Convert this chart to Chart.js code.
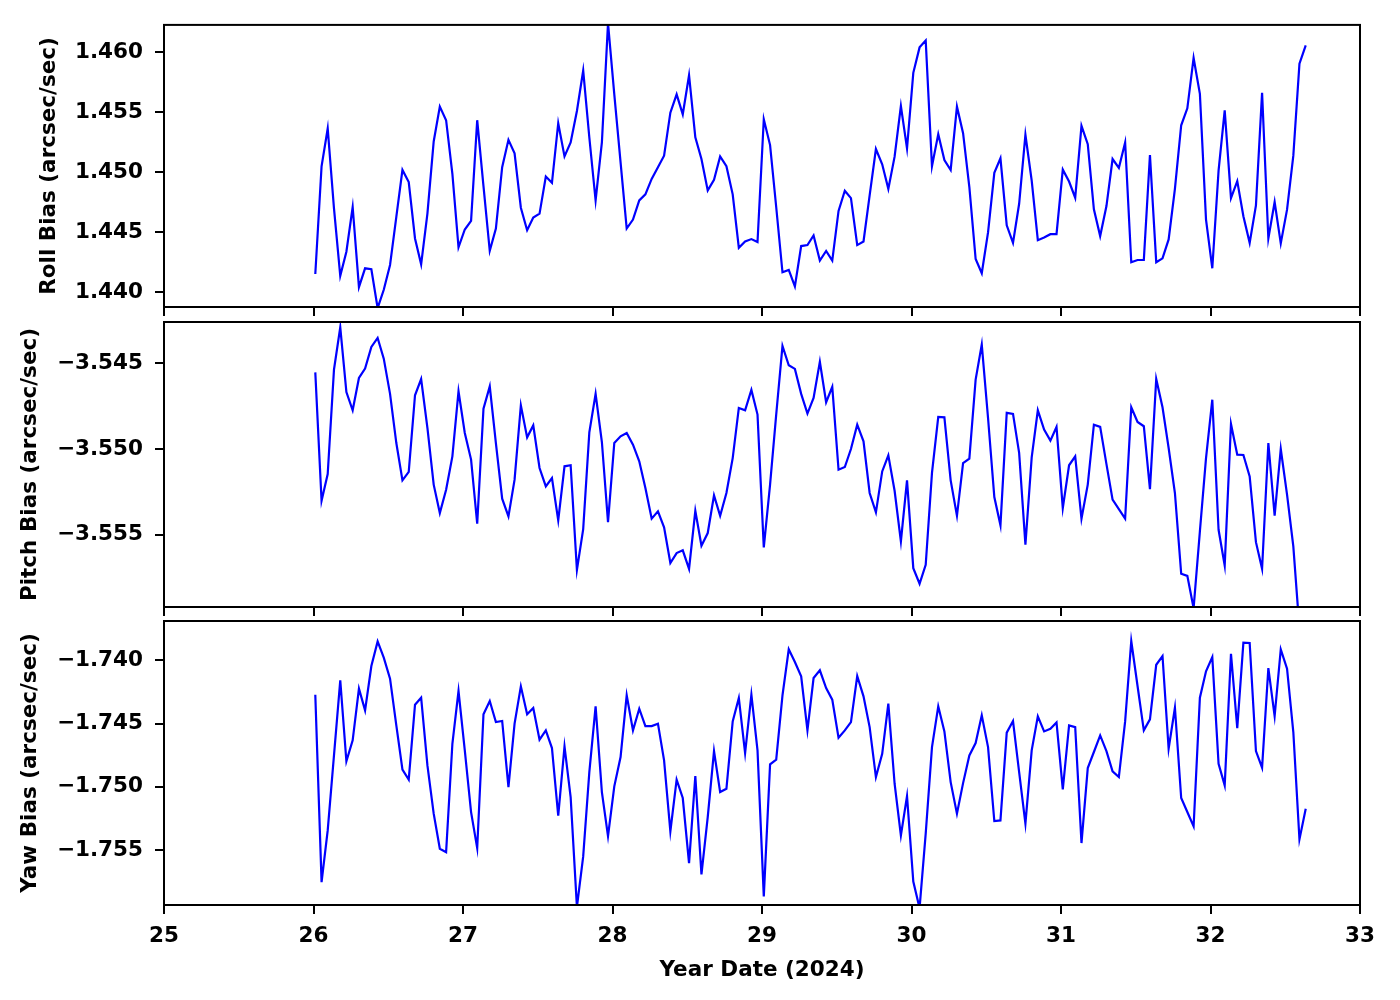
<!DOCTYPE html>
<html>
<head>
<meta charset="utf-8">
<script src="https://cdn.jsdelivr.net/npm/chart.js@4.4.1/dist/chart.umd.min.js"></script>
<style>
body { margin: 0; background: #fff; }
#wrap { position: relative; width: 1400px; height: 1000px; }
#wrap canvas { position: absolute; left: 0; top: 0; }
</style>
</head>
<body>
<div id="wrap">
<canvas id="roll" width="1400" height="1000"></canvas>
<canvas id="pitch" width="1400" height="1000"></canvas>
<canvas id="yaw" width="1400" height="1000"></canvas>
</div>
<script>
// hourly samples
var yearDates = [
  26.012, 26.054, 26.095, 26.137, 26.179, 26.220, 26.262, 26.304, 26.345, 26.387, 26.429, 26.470,
  26.512, 26.554, 26.595, 26.637, 26.679, 26.720, 26.762, 26.804, 26.845, 26.887, 26.929, 26.970,
  27.012, 27.054, 27.095, 27.137, 27.179, 27.220, 27.262, 27.304, 27.345, 27.387, 27.429, 27.470,
  27.512, 27.554, 27.595, 27.637, 27.679, 27.720, 27.762, 27.804, 27.845, 27.887, 27.929, 27.970,
  28.012, 28.054, 28.095, 28.137, 28.179, 28.220, 28.262, 28.304, 28.345, 28.387, 28.429, 28.470,
  28.512, 28.554, 28.595, 28.637, 28.679, 28.720, 28.762, 28.804, 28.845, 28.887, 28.929, 28.970,
  29.012, 29.054, 29.095, 29.137, 29.179, 29.220, 29.262, 29.304, 29.345, 29.387, 29.429, 29.470,
  29.512, 29.554, 29.595, 29.637, 29.679, 29.720, 29.762, 29.804, 29.845, 29.887, 29.929, 29.970,
  30.012, 30.054, 30.095, 30.137, 30.179, 30.220, 30.262, 30.304, 30.345, 30.387, 30.429, 30.470,
  30.512, 30.554, 30.595, 30.637, 30.679, 30.720, 30.762, 30.804, 30.845, 30.887, 30.929, 30.970,
  31.012, 31.054, 31.095, 31.137, 31.179, 31.220, 31.262, 31.304, 31.345, 31.387, 31.429, 31.470,
  31.512, 31.554, 31.595, 31.637, 31.679, 31.720, 31.762, 31.804, 31.845, 31.887, 31.929, 31.970,
  32.012, 32.054, 32.095, 32.137, 32.179, 32.220, 32.262, 32.304, 32.345, 32.387, 32.429, 32.470,
  32.512, 32.554, 32.595, 32.637
];

var rollBias = [
  1.44154, 1.45050, 1.45364, 1.44700, 1.44138, 1.44339, 1.44711, 1.44044, 1.44201, 1.44193,
  1.43870, 1.44022, 1.44229, 1.44628, 1.45019, 1.44918, 1.44449, 1.44234, 1.44656, 1.45256,
  1.45546, 1.45433, 1.44986, 1.44375, 1.44524, 1.44595, 1.45433, 1.44885, 1.44347, 1.44532,
  1.45042, 1.45270, 1.45157, 1.44705, 1.44518, 1.44623, 1.44656, 1.44964, 1.44912, 1.45408,
  1.45132, 1.45248, 1.45510, 1.45846, 1.45289, 1.44766, 1.45248, 1.46240, 1.45648, 1.45083,
  1.44532, 1.44606, 1.44766,
  1.44816, 1.44945, 1.45042, 1.45138, 1.45496, 1.45648, 1.45482, 1.45807, 1.45290, 1.45110,
  1.44849, 1.44937, 1.45132, 1.45050, 1.44816, 1.44372, 1.44424, 1.44444, 1.44419, 1.45441,
  1.45226, 1.44711, 1.44168, 1.44187, 1.44050, 1.44386, 1.44394, 1.44474, 1.44265, 1.44345,
  1.44265, 1.44678, 1.44846, 1.44785, 1.44394, 1.44424, 1.44807, 1.45193, 1.45066, 1.44862,
  1.45130, 1.45551, 1.45199, 1.45827, 1.46039, 1.46097, 1.45050, 1.45317, 1.45102, 1.45019,
  1.45546, 1.45325, 1.44876,
  1.44278, 1.44160, 1.44499, 1.44995, 1.45116, 1.44559, 1.44413, 1.44738, 1.45312, 1.44931,
  1.44435, 1.44457, 1.44485, 1.44485, 1.45022, 1.44923, 1.44788, 1.45386, 1.45234, 1.44692,
  1.44469, 1.44719, 1.45110, 1.45036, 1.45248, 1.44251, 1.44270, 1.44270, 1.45143, 1.44251,
  1.44284, 1.44441, 1.44862, 1.45391, 1.45532, 1.45951, 1.45653, 1.44606, 1.44201, 1.45014,
  1.45515, 1.44785, 1.44926, 1.44634, 1.44413, 1.44725, 1.45661, 1.44449, 1.44752, 1.44408,
  1.44689, 1.45138, 1.45904, 1.46055
];

var pitchBias = [
  -3.54552, -3.55302, -3.55146, -3.54536, -3.54289, -3.54667, -3.54774, -3.54585, -3.54530, -3.54404,
  -3.54351, -3.54472, -3.54678, -3.54965, -3.55183, -3.55134, -3.54686, -3.54591, -3.54877, -3.55208,
  -3.55374, -3.55238, -3.55043, -3.54663, -3.54906, -3.55062, -3.55436, -3.54764, -3.54634, -3.54965,
  -3.55290, -3.55394, -3.55179, -3.54745, -3.54932, -3.54862, -3.55111, -3.55218, -3.55170, -3.55417,
  -3.55101, -3.55095, -3.55706, -3.55468, -3.54903, -3.54678, -3.54959, -3.55427, -3.54965, -3.54926,
  -3.54906, -3.54975, -3.55072,
  -3.55228, -3.55407, -3.55364, -3.55458, -3.55666, -3.55608, -3.55592, -3.55700, -3.55361, -3.55565,
  -3.55491, -3.55271, -3.55390, -3.55257, -3.55053, -3.54760, -3.54774, -3.54655, -3.54799, -3.55575,
  -3.55208, -3.54799, -3.54398, -3.54511, -3.54532, -3.54678, -3.54793, -3.54702, -3.54491, -3.54727,
  -3.54637, -3.55121, -3.55105, -3.55000, -3.54858, -3.54955, -3.55257, -3.55370, -3.55131, -3.55037,
  -3.55244, -3.55540, -3.55183, -3.55696, -3.55787, -3.55676, -3.55140, -3.54813, -3.54815, -3.55183,
  -3.55390, -3.55082, -3.55056,
  -3.54595, -3.54390, -3.54819, -3.55281, -3.55446, -3.54789, -3.54795, -3.55023, -3.55559, -3.55049,
  -3.54774, -3.54887, -3.54951, -3.54871, -3.55345, -3.55095, -3.55043, -3.55407, -3.55208, -3.54858,
  -3.54871, -3.55088, -3.55296, -3.55351, -3.55407, -3.54756, -3.54842, -3.54867, -3.55234, -3.54591,
  -3.54756, -3.54994, -3.55257, -3.55729, -3.55741, -3.55930, -3.55481, -3.55053, -3.54712, -3.55472,
  -3.55680, -3.54854, -3.55033, -3.55035, -3.55160, -3.55544, -3.55700, -3.54965, -3.55390, -3.55000,
  -3.55267, -3.55569, -3.56050, -3.56120
];

var yawBias = [
  -1.74272, -1.75754, -1.75345, -1.74752, -1.74158, -1.74799, -1.74633, -1.74224, -1.74396, -1.74045,
  -1.73850, -1.73979, -1.74145, -1.74514, -1.74865, -1.74944, -1.74351, -1.74296, -1.74831, -1.75213,
  -1.75490, -1.75517, -1.74660, -1.74243, -1.74712, -1.75200, -1.75485, -1.74427, -1.74322, -1.74488,
  -1.74480, -1.75002, -1.74501, -1.74206, -1.74427, -1.74377, -1.74628, -1.74554, -1.74694, -1.75229,
  -1.74681, -1.75081, -1.75950, -1.75551, -1.74884, -1.74364, -1.75042, -1.75390, -1.74997, -1.74765,
  -1.74277, -1.74554, -1.74383,
  -1.74520, -1.74520, -1.74501, -1.74791, -1.75353, -1.74944, -1.75089, -1.75604, -1.74915, -1.75693,
  -1.75240, -1.74718, -1.75042, -1.75016, -1.74483, -1.74298, -1.74733, -1.74272, -1.74712, -1.75867,
  -1.74823, -1.74786, -1.74277, -1.73913, -1.74013, -1.74127, -1.74554, -1.74140, -1.74079, -1.74219,
  -1.74311, -1.74612, -1.74554, -1.74488, -1.74124, -1.74285, -1.74528, -1.74923, -1.74739, -1.74343,
  -1.74976, -1.75385, -1.75074, -1.75749, -1.75960, -1.75371, -1.74686, -1.74364, -1.74562, -1.74963,
  -1.75213, -1.74971, -1.74752,
  -1.74654, -1.74435, -1.74686, -1.75271, -1.75266, -1.74572, -1.74480, -1.74884, -1.75292, -1.74712,
  -1.74443, -1.74562, -1.74541, -1.74491, -1.75021, -1.74514, -1.74528, -1.75445, -1.74852, -1.74725,
  -1.74594, -1.74718, -1.74878, -1.74923, -1.74483, -1.73847, -1.74203, -1.74554, -1.74467, -1.74035,
  -1.73966, -1.74699, -1.74375, -1.75089, -1.75200, -1.75313, -1.74296, -1.74087, -1.73974, -1.74818,
  -1.74989, -1.73948, -1.74536, -1.73861, -1.73863, -1.74718, -1.74849, -1.74061, -1.74441, -1.73913,
  -1.74066, -1.74567, -1.75416, -1.75174
];

var dayTicks = [25, 26, 27, 28, 29, 30, 31, 32, 33];
var rollTicks = [1.440, 1.445, 1.450, 1.455, 1.460];
var pitchTicks = [-3.555, -3.550, -3.545];
var yawTicks = [-1.755, -1.750, -1.745, -1.740];

Chart.defaults.font.family = "'DejaVu Sans', sans-serif";
Chart.defaults.font.weight = 'bold';
Chart.defaults.font.size = 21.5;
Chart.defaults.color = '#000';

// box round each panel, like matplotlib spines
var frame = {
    id: 'frame',
    afterDraw: function(chart) {
        var a = chart.chartArea;
        var ctx = chart.ctx;
        ctx.save();
        ctx.strokeStyle = '#000';
        ctx.lineWidth = 2;
        ctx.strokeRect(a.left, a.top, a.right - a.left, a.bottom - a.top);
        ctx.restore();
    }
};

function fmt(v) {
    return v.toFixed(3).replace('-', '\u2212');
}

function makePanel(id, values, yTicks, yMin, yMax, label, labelPad, padTop, padBottom, showX) {
    var points = yearDates.map(function(t, i) { return { x: t, y: values[i] }; });
    var ctx = document.getElementById(id).getContext('2d');
    return new Chart(ctx, {
        type: 'line',
        data: {
            datasets: [{
                data: points,
                borderColor: '#0000ff',
                borderWidth: 2.2,
                pointRadius: 0,
                fill: false,
                tension: 0
            }]
        },
        plugins: [frame],
        options: {
            responsive: false,
            animation: false,
            devicePixelRatio: 1,
            layout: { padding: { top: padTop, bottom: padBottom, left: 0, right: 40 } },
            plugins: { legend: { display: false }, tooltip: { enabled: false } },
            scales: {
                x: {
                    type: 'linear',
                    min: 25,
                    max: 33,
                    afterBuildTicks: function(s) { s.ticks = dayTicks.map(function(v) { return { value: v }; }); },
                    afterFit: function(s) { s.height = showX ? 78 : 10; },
                    grid: { display: true, drawOnChartArea: false, drawTicks: true, tickLength: 9, color: '#000', lineWidth: 2 },
                    border: { display: false },
                    ticks: { display: showX, padding: 10, maxRotation: 0, autoSkip: false },
                    title: { display: showX, text: 'Year Date (2024)', padding: { top: 0, bottom: 0 } }
                },
                y: {
                    min: yMin,
                    max: yMax,
                    afterBuildTicks: function(s) { s.ticks = yTicks.map(function(v) { return { value: v }; }); },
                    afterFit: function(s) { s.width = 164; },
                    grid: { display: true, drawOnChartArea: false, drawTicks: true, tickLength: 9, color: '#000', lineWidth: 2 },
                    border: { display: false },
                    ticks: { padding: 12, callback: function(v) { return fmt(v); } },
                    title: { display: true, text: label, padding: { top: labelPad, bottom: 0 } }
                }
            }
        }
    });
}

makePanel('roll', rollBias, rollTicks, 1.43879, 1.46226, 'Roll Bias (arcsec/sec)', 37, 23, 683, false);
makePanel('pitch', pitchBias, pitchTicks, -3.55923, -3.54258, 'Pitch Bias (arcsec/sec)', 17.5, 322, 383, false);
makePanel('yaw', yawBias, yawTicks, -1.75935, -1.73689, 'Yaw Bias (arcsec/sec)', 17.5, 621, 17, true);
</script>
</body>
</html>
